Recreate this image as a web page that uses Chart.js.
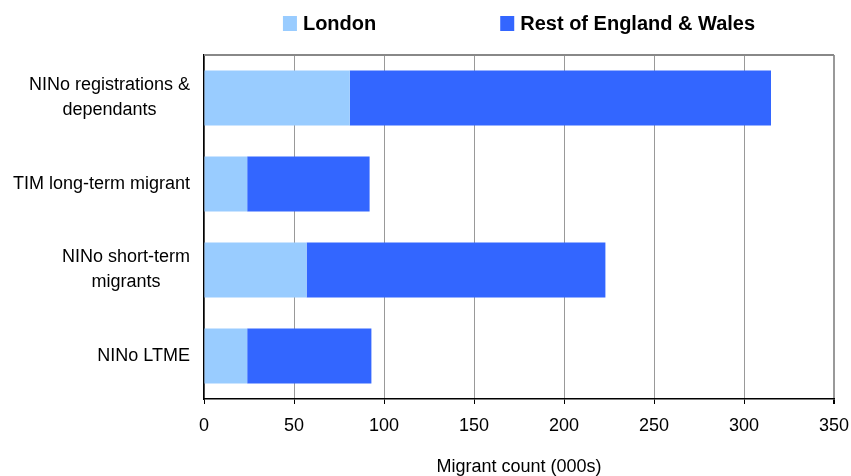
<!DOCTYPE html>
<html>
<head>
<meta charset="utf-8">
<script src="https://cdn.jsdelivr.net/npm/chart.js@4/dist/chart.umd.min.js"></script>
<style>
  html, body { margin: 0; padding: 0; background: #ffffff; }
  #wrap { width: 851px; height: 476px; }
</style>
</head>
<body>
<div id="wrap"><canvas id="chart"></canvas></div>
<script>
// categories (multi-line labels) and series values, thousands of migrants
const categories = [
  ['NINo registrations &', 'dependants'],
  ['TIM long-term migrant'],
  ['NINo short-term', 'migrants'],
  ['NINo LTME']
];
const londonValues = [81, 24, 57, 24];
const restValues = [234, 68, 166, 69];
const xTicks = [0, 50, 100, 150, 200, 250, 300, 350];

const FONT = "'Liberation Sans', Arial, sans-serif";

// legend drawn centred over the plot area
const centredLegend = {
  id: 'centredLegend',
  afterDraw(chart) {
    const ctx = chart.ctx;
    const area = chart.chartArea;
    const sets = chart.data.datasets;
    ctx.save();
    ctx.font = 'bold 20px ' + FONT;
    const box = 14, gap = 6, itemGap = 124;
    const widths = sets.map(ds => ctx.measureText(ds.label).width);
    let total = 0;
    widths.forEach((w, i) => { total += box + gap + w + (i ? itemGap : 0); });
    let x = (area.left + area.right) / 2 - total / 2;
    sets.forEach((ds, i) => {
      ctx.fillStyle = ds.backgroundColor;
      ctx.fillRect(x, 16, box, 15);
      ctx.fillStyle = '#000000';
      ctx.textBaseline = 'alphabetic';
      ctx.textAlign = 'left';
      ctx.fillText(ds.label, x + box + gap, 30);
      x += box + gap + widths[i] + itemGap;
    });
    ctx.restore();
  }
};

// category labels: right-aligned blocks, lines centred inside each block
const blockLabels = {
  id: 'blockLabels',
  afterDraw(chart) {
    const ctx = chart.ctx;
    const y = chart.scales.y;
    const right = chart.chartArea.left - 14;
    const lh = 25;
    ctx.save();
    ctx.font = '18px ' + FONT;
    ctx.fillStyle = '#000000';
    ctx.textAlign = 'center';
    ctx.textBaseline = 'middle';
    categories.forEach((lines, i) => {
      const cy = y.getPixelForTick(i);
      const maxW = Math.max(...lines.map(l => ctx.measureText(l).width));
      const cx = right - maxW / 2;
      lines.forEach((l, j) => {
        ctx.fillText(l, cx, cy + (j - (lines.length - 1) / 2) * lh);
      });
    });
    // top frame line of the plot area
    const a = chart.chartArea;
    ctx.strokeStyle = '#888888';
    ctx.lineWidth = 2;
    ctx.beginPath();
    ctx.moveTo(a.left, a.top);
    ctx.lineTo(a.right, a.top);
    ctx.stroke();
    ctx.restore();
  }
};

new Chart(document.getElementById('chart'), {
  type: 'bar',
  data: {
    labels: categories,
    datasets: [
      {
        label: 'London',
        data: londonValues,
        backgroundColor: '#99CCFF',
        borderWidth: 0,
        barPercentage: 0.8,
        categoryPercentage: 0.8
      },
      {
        label: 'Rest of England & Wales',
        data: restValues,
        backgroundColor: '#3366FF',
        borderWidth: 0,
        barPercentage: 0.8,
        categoryPercentage: 0.8
      }
    ]
  },
  options: {
    indexAxis: 'y',
    responsive: true,
    maintainAspectRatio: false,
    animation: false,
    layout: { padding: { top: 55, right: 17, bottom: 0, left: 0 } },
    plugins: {
      legend: { display: false },
      tooltip: { enabled: false }
    },
    scales: {
      x: {
        stacked: true,
        min: 0,
        max: 350,
        afterBuildTicks: (scale) => { scale.ticks = xTicks.map(v => ({ value: v })); },
        afterFit: (scale) => {
          scale.height = 77;
          scale.paddingLeft = 0;
          scale.paddingRight = 0;
        },
        grid: {
          color: '#999999',
          lineWidth: (c) => (c.tick && c.tick.value === 350 ? 2 : 1),
          tickColor: '#000000',
          tickLength: 5
        },
        border: { color: '#000000', width: 1.5 },
        ticks: {
          color: '#000000',
          padding: 11,
          font: { family: FONT, size: 18 },
          maxRotation: 0
        },
        title: {
          display: true,
          text: 'Migrant count (000s)',
          color: '#000000',
          font: { family: FONT, size: 18 },
          padding: { top: 0, bottom: -2 }
        }
      },
      y: {
        stacked: true,
        afterFit: (scale) => { scale.width = 204; },
        grid: { display: false },
        border: { color: '#000000', width: 1.5 },
        ticks: { display: false }
      }
    }
  },
  plugins: [centredLegend, blockLabels]
});
</script>
</body>
</html>
